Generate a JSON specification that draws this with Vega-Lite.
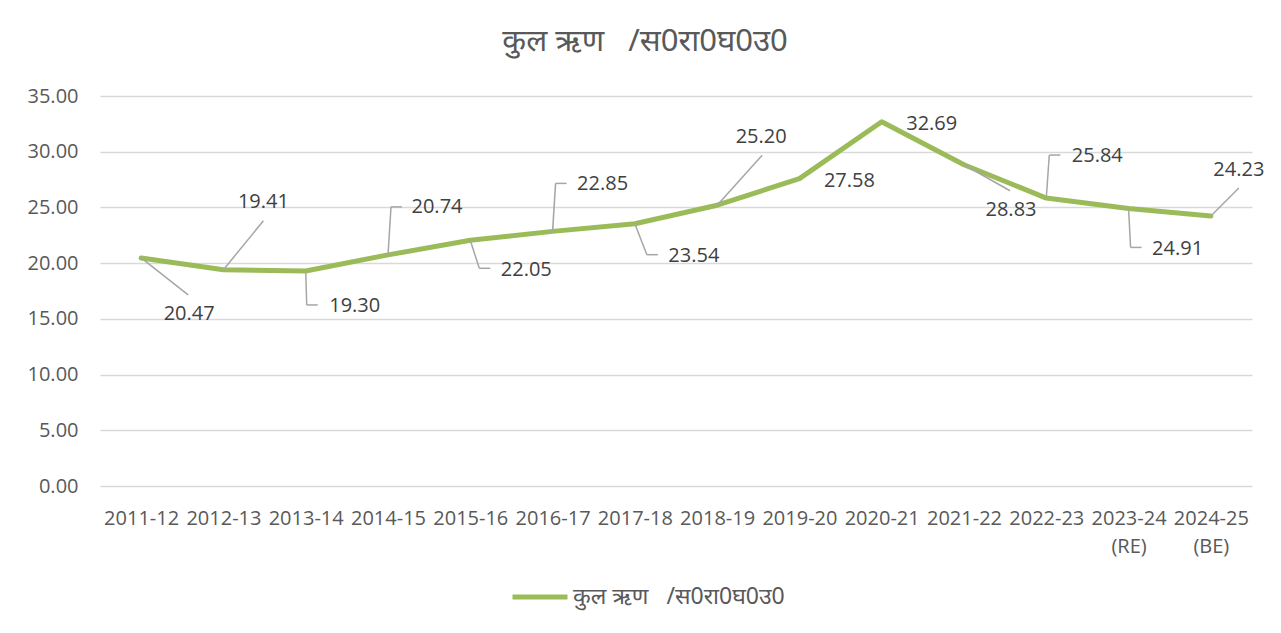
{
  "$schema": "https://vega.github.io/schema/vega-lite/v6.json",
  "width": 1152,
  "height": 390,
  "autosize": {"type": "none"},
  "padding": {"left": 100, "top": 96, "right": 29, "bottom": 147},
  "background": "white",
  "config": {"view": {"stroke": null}, "font": "Open Sans"},
  "title": {"text": "कुल ऋण\u00a0\u00a0\u00a0/स0रा0घ0उ0", "fontSize": 31, "fontWeight": "normal", "color": "#595959", "font": "Noto Sans", "dx": -31, "offset": 28, "anchor": "middle", "limit": 0},
  "params": [
    {"name": "LX", "value": {"2011-12": 48, "2012-13": 40, "2013-14": 49, "2014-15": 49, "2015-16": 56, "2016-17": 50, "2017-18": 59, "2018-19": 44, "2019-20": 50, "2020-21": 50, "2021-22": 47, "2022-23": 51, "2023-24 (RE)": 49, "2024-25 (BE)": 28}},
    {"name": "LY", "value": {"2011-12": 56, "2012-13": -68, "2013-14": 35, "2014-15": -48, "2015-16": 30, "2016-17": -47, "2017-18": 32, "2018-19": -68, "2019-20": 2, "2020-21": 2, "2021-22": 45, "2022-23": -42, "2023-24 (RE)": 41, "2024-25 (BE)": -46}},
    {"name": "EX", "value": {"2011-12": 47, "2012-13": 40, "2013-14": 1, "2014-15": 3, "2015-16": 9, "2016-17": 3, "2017-18": 12, "2018-19": 45, "2019-20": 0, "2020-21": 0, "2021-22": 46, "2022-23": 3, "2023-24 (RE)": 2, "2024-25 (BE)": 28}},
    {"name": "EY", "value": {"2011-12": 37, "2012-13": -49, "2013-14": 34, "2014-15": -48, "2015-16": 28, "2016-17": -48, "2017-18": 31, "2018-19": -50, "2019-20": 0, "2020-21": 0, "2021-22": 26, "2022-23": -43, "2023-24 (RE)": 39, "2024-25 (BE)": -28}}
  ],
  "data": {"values": [
    {"year": "2011-12", "value": 20.47},
    {"year": "2012-13", "value": 19.41},
    {"year": "2013-14", "value": 19.30},
    {"year": "2014-15", "value": 20.74},
    {"year": "2015-16", "value": 22.05},
    {"year": "2016-17", "value": 22.85},
    {"year": "2017-18", "value": 23.54},
    {"year": "2018-19", "value": 25.20},
    {"year": "2019-20", "value": 27.58},
    {"year": "2020-21", "value": 32.69},
    {"year": "2021-22", "value": 28.83},
    {"year": "2022-23", "value": 25.84},
    {"year": "2023-24 (RE)", "value": 24.91},
    {"year": "2024-25 (BE)", "value": 24.23}
  ]},
  "encoding": {
    "x": {"field": "year", "type": "ordinal", "sort": null, "scale": {"type": "point", "padding": 0.5},
      "axis": {"title": null, "labelAngle": 0, "labelFontSize": 20, "labelColor": "#595959", "labelFont": "Open Sans", "ticks": false, "domain": false, "grid": false, "labelPadding": 22, "labelExpr": "split(datum.label, ' ')", "labelLineHeight": 28, "labelOverlap": false, "labelBound": false}},
    "y": {"field": "value", "type": "quantitative", "scale": {"domain": [0, 35], "nice": false},
      "axis": {"title": null, "values": [0, 5, 10, 15, 20, 25, 30, 35], "format": ".2f", "labelFontSize": 20, "labelColor": "#595959", "labelFont": "Open Sans", "ticks": false, "domain": false, "gridColor": "#D9D9D9", "gridWidth": 1.5, "labelPadding": 22}}
  },
  "layer": [
    {
      "mark": {"type": "line", "strokeWidth": 5, "strokeJoin": "round", "strokeCap": "round"},
      "encoding": {
        "color": {"datum": "कुल ऋण\u00a0\u00a0\u00a0/स0रा0घ0उ0", "type": "nominal", "scale": {"range": ["#9BBB59"]},
          "legend": {"orient": "none", "legendX": 410, "legendY": 471, "title": null, "symbolType": "stroke", "symbolStrokeWidth": 5, "symbolSize": 3025, "labelFontSize": 23, "labelColor": "#595959", "labelFont": "Noto Sans", "labelOffset": 3, "labelLimit": 0}}
      }
    },
    {
      "transform": [{"filter": "datum.year != '2019-20' && datum.year != '2020-21'"}],
      "mark": {"type": "rule", "color": "#A6A6A6", "strokeWidth": 1.5},
      "encoding": {
        "x2": {"value": {"expr": "scale('x', datum.year) + EX[datum.year]"}},
        "y2": {"value": {"expr": "scale('y', datum.value) + EY[datum.year]"}}
      }
    },
    {
      "transform": [{"filter": {"field": "year", "oneOf": ["2013-14", "2014-15", "2015-16", "2016-17", "2017-18", "2022-23", "2023-24 (RE)"]}}],
      "mark": {"type": "rule", "color": "#A6A6A6", "strokeWidth": 1.5},
      "encoding": {
        "x": {"value": {"expr": "scale('x', datum.year) + EX[datum.year]"}},
        "y": {"value": {"expr": "scale('y', datum.value) + EY[datum.year]"}},
        "x2": {"value": {"expr": "scale('x', datum.year) + EX[datum.year] + 11"}},
        "y2": {"value": {"expr": "scale('y', datum.value) + EY[datum.year]"}}
      }
    },
    {
      "mark": {"type": "text", "font": "Open Sans", "fontSize": 20, "color": "#404040", "align": "center", "baseline": "middle", "dx": {"expr": "LX[datum.year]"}, "dy": {"expr": "LY[datum.year]"}},
      "encoding": {
        "text": {"field": "value", "type": "quantitative", "format": ".2f"}
      }
    }
  ]
}
